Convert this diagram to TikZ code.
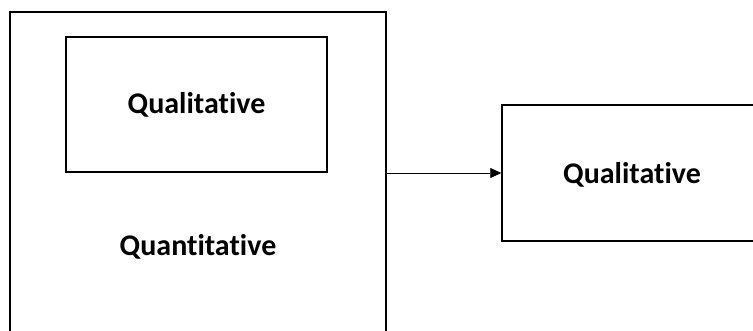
\documentclass[tikz,border=0pt]{standalone}
\usepackage{fontspec}
\setmainfont[Ligatures=NoCommon]{Carlito}
\usetikzlibrary{arrows.meta}
\begin{document}
\begin{tikzpicture}[x=1pt,y=-1pt,
  box/.style={draw=black,line width=1.5pt,inner sep=0pt},
  lbl/.style={font=\bfseries\fontsize{30}{36}\selectfont,inner sep=0pt}]
\useasboundingbox (0,0) rectangle (753,331);
\clip (0,0) rectangle (753,331);
\fill[white] (0,0) rectangle (753,331);
\node[box,minimum width=376pt,minimum height=330pt] (outer) at (198,177) {};
\node[box,minimum width=261pt,minimum height=135pt] (inner) at (196.5,104.5) {};
\node[lbl] (t1) at (inner.center) {Qualitative};
\node[lbl] (t2) at (198,247) {Quantitative};
\node[box,minimum width=258pt,minimum height=136pt] (right) at (631,173) {};
\node[lbl] (t3) at (632,175) {Qualitative};
\draw[line width=0.8pt,-{Triangle[length=11pt,width=10pt]}] (outer.east |- right.west) -- (right.west);
\end{tikzpicture}
\end{document}
